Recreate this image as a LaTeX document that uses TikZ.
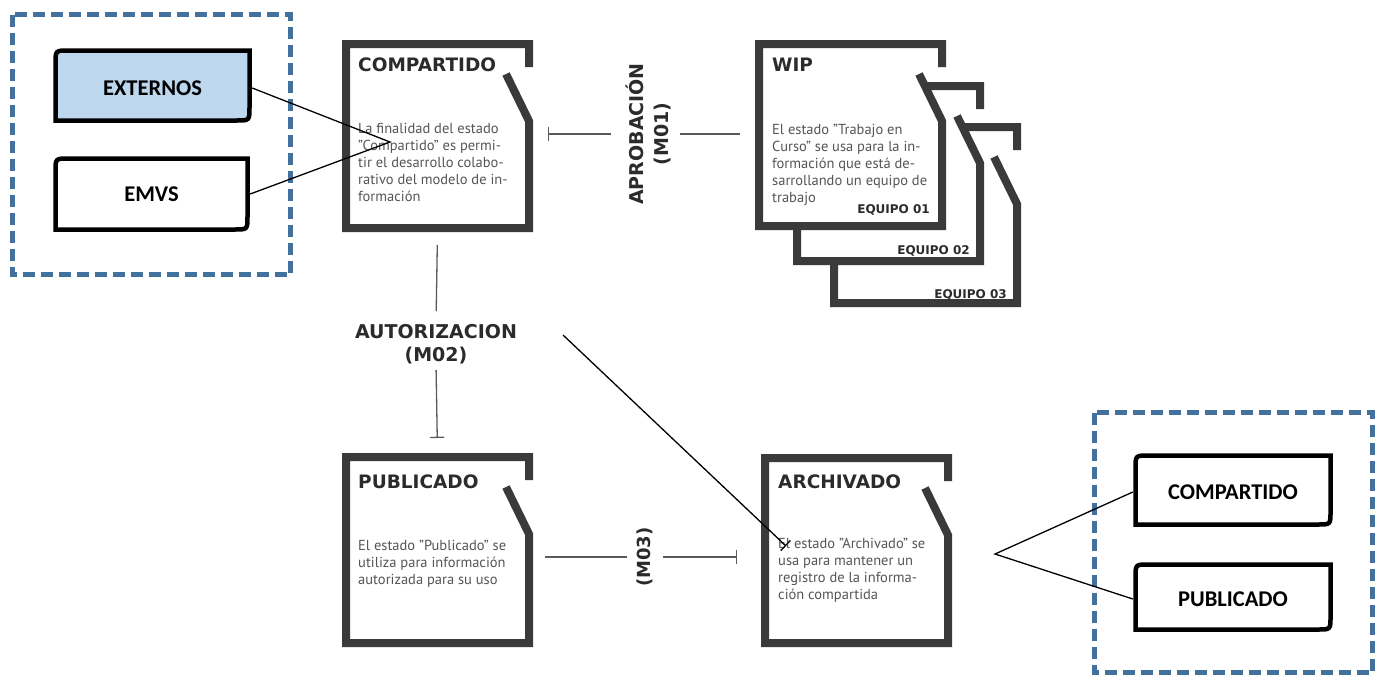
\documentclass[tikz,border=0pt]{standalone}
\usepackage{fontspec}
\setmainfont{PT Sans}
\newfontfamily\ttlfont{DejaVu Sans}
\newfontfamily\calfont{Carlito}
\usetikzlibrary{arrows.meta}

\definecolor{frameg}{HTML}{3A3A3A}
\definecolor{titleg}{HTML}{2B2B2B}
\definecolor{bodyg}{HTML}{555555}
\definecolor{conng}{HTML}{5A5A5A}
\definecolor{dashb}{HTML}{41719C}
\definecolor{lightb}{HTML}{BDD7EE}

\tikzset{
 frame/.style={draw=frameg, line width=8pt, line cap=butt, line join=miter},
 stitle/.style={font=\ttlfont\bfseries\fontsize{18.5}{22}\selectfont, text=titleg, inner sep=0pt, anchor=base west},
 sbody/.style={font=\fontsize{14.5}{17}\selectfont, text=bodyg, inner sep=0pt, anchor=base west, align=left},
 equipo/.style={font=\ttlfont\bfseries\fontsize{12}{14}\selectfont, text=titleg, inner sep=0pt, anchor=base east},
 mlabel/.style={font=\ttlfont\bfseries\fontsize{19}{23}\selectfont, text=titleg, align=center, inner sep=0pt},
 conn/.style={draw=conng, line width=1.3pt},
 bartip/.style={-{Bar[width=14pt]}},
 blk/.style={draw=black, line width=1.3pt},
 dashbox/.style={draw=dashb, line width=5pt, dash pattern=on 12pt off 6pt},
 rboxline/.style={draw=black, line width=4.5pt},
 rlabel/.style={font=\calfont\bfseries\fontsize{22.5}{26}\selectfont, inner sep=0pt},
 sbox/.style={inner sep=0pt, outer sep=0pt, anchor=north west, minimum width=191pt},
}

% state frame: X Y H
\newcommand\sframe[3]{%
 \fill[white] (#1+4,#2+4) -- (#1+187,#2+4) -- (#1+187,#2+27) -- (#1+164,#2+34) -- (#1+187,#2+81) -- (#1+187,#2+#3-4) -- (#1+4,#2+#3-4) -- cycle;
 \draw[frame] (#1+164,#2+34) -- (#1+187,#2+81) -- (#1+187,#2+#3-4) -- (#1+4,#2+#3-4) -- (#1+4,#2+4) -- (#1+187,#2+4) -- (#1+187,#2+27);
}
% rounded box outline: x1 y1 x2 y2 fill
\newcommand\rbox[5]{%
 \filldraw[rboxline, fill=#5] (#3,#2) -- (#1+13,#2) .. controls (#1,#2) .. (#1,#2+13) -- (#1,#4) -- (#3-13,#4) .. controls (#3,#4) .. (#3,#4-13) -- cycle;
}

\begin{document}
\begin{tikzpicture}[x=1pt,y=-1pt]
\useasboundingbox (0,0) rectangle (1383,678);
\fill[white] (0,0) rectangle (1383,678);

% dashed groups
\draw[dashbox] (12.5,14.5) rectangle (290.5,274.5);
\draw[dashbox] (1094.5,412.5) rectangle (1372.5,672.5);

% rounded boxes
\rbox{55.5}{50.5}{249.5}{120.5}{lightb}
\node[rlabel, minimum width=199pt, minimum height=75pt] (ext) at (152.5,88) {EXTERNOS};
\rbox{55.5}{158.5}{247.5}{229.5}{white}
\node[rlabel, minimum width=197pt, minimum height=76pt] (emvs) at (151.5,194) {EMVS};
\rbox{1135.5}{455.5}{1330.5}{524.5}{white}
\node[rlabel, minimum width=200pt, minimum height=74pt] (comp2) at (1233,492) {COMPARTIDO};
\rbox{1135.5}{564.5}{1330.5}{629.5}{white}
\node[rlabel, minimum width=200pt, minimum height=70pt] (pub2) at (1233,599) {PUBLICADO};

% state boxes
\sframe{830}{123}{184}
\sframe{793}{82}{183}
\sframe{755}{40}{190}
\sframe{342}{40}{192}
\sframe{342}{453}{194}
\sframe{761}{454}{193}

\node[sbox, minimum height=192pt] (comp) at (342,40) {};
\node[sbox, minimum height=190pt] (wip) at (755,40) {};
\node[sbox, minimum height=194pt] (pub) at (342,453) {};
\node[sbox, minimum height=193pt] (arch) at (761,454) {};

% body anchors are at the baseline of the last line
\node[stitle] (compT) at (358,71) {COMPARTIDO};
\node[sbody] (compB) at (358,201) {La finalidad del estado\\"Compartido" es permi-\\tir el desarrollo colabo-\\rativo del modelo de in-\\formación};
\node[stitle] (wipT) at (772,71) {WIP};
\node[sbody] (wipB) at (772,202) {El estado "Trabajo en\\Curso" se usa para la in-\\formación que está de-\\sarrollando un equipo de\\trabajo};
\node[equipo] (eq1) at (930,213) {EQUIPO 01};
\node[equipo] (eq2) at (970,254) {EQUIPO 02};
\node[equipo] (eq3) at (1007,298) {EQUIPO 03};
\node[stitle] (pubT) at (358,488) {PUBLICADO};
\node[sbody] (pubB) at (358,584) {El estado "Publicado" se\\utiliza para información\\autorizada para su uso};
\node[stitle] (archT) at (778,488) {ARCHIVADO};
\node[sbody] (archB) at (778,599) {El estado "Archivado" se\\usa para mantener un\\registro de la informa-\\ción compartida};

% transition labels
\node[mlabel, font=\ttlfont\bfseries\fontsize{19}{25}\selectfont, rotate=90] (m01) at (648,134) {APROBACIÓN\\(M01)};
\node[mlabel] (m02) at (436,344) {AUTORIZACION\\(M02)};
\node[mlabel, font=\ttlfont\bfseries\fontsize{18}{22}\selectfont, rotate=90] (m03) at (645,557) {(M03)};

% connectors
\draw[conn, bartip, shorten <=14pt, shorten >=15pt] (m01.north) -- (m01.north -| comp.east);
\draw[conn, shorten <=9pt, shorten >=15pt] (m01.south) -- (m01.south -| wip.west);
\draw[conn, shorten <=13pt, shorten >=13pt] (comp.south) -- (m02.north);
\draw[conn, bartip, shorten <=6pt, shorten >=15pt] (m02.south) -- (pub.north);
\draw[conn, shorten <=10pt, shorten >=12pt] (m03.north) -- (m03.north -| pub.east);
\draw[conn, bartip, shorten <=10pt, shorten >=24pt] (m03.south) -- (m03.south -| arch.west);

\coordinate (dstart) at (563,335);
\coordinate (dend) at (786,546);
\draw[blk, -{Bar[width=14pt]}] (dstart) -- (dend);

\coordinate (cv1) at (390,142);
\draw[blk] (ext.east) -- (cv1) -- (emvs.east);
\coordinate (cv2) at (995,554);
\draw[blk] (comp2.west) -- (cv2) -- (pub2.west);
\end{tikzpicture}
\end{document}
